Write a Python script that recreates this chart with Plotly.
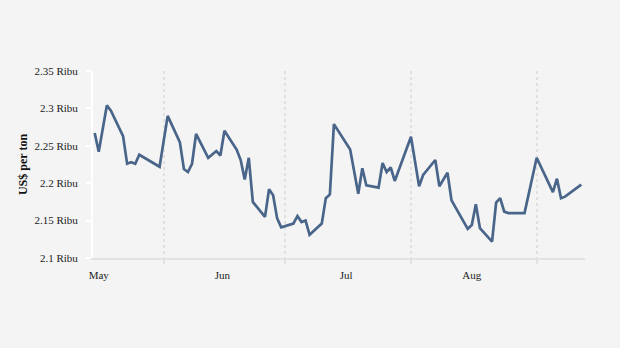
import plotly.graph_objects as go

# Daily price, US$ per ton (thousands)
dates = [
    "2023-05-15", "2023-05-16", "2023-05-18", "2023-05-19", "2023-05-22",
    "2023-05-23", "2023-05-24", "2023-05-25", "2023-05-26", "2023-05-31",
    "2023-06-02", "2023-06-05", "2023-06-06", "2023-06-07", "2023-06-08",
    "2023-06-09", "2023-06-12", "2023-06-14", "2023-06-15", "2023-06-16",
    "2023-06-19", "2023-06-20", "2023-06-21", "2023-06-22", "2023-06-23",
    "2023-06-26", "2023-06-27", "2023-06-28", "2023-06-29", "2023-06-30",
    "2023-07-03", "2023-07-04", "2023-07-05", "2023-07-06", "2023-07-07",
    "2023-07-10", "2023-07-11", "2023-07-12", "2023-07-13", "2023-07-17",
    "2023-07-19", "2023-07-20", "2023-07-21", "2023-07-24", "2023-07-25",
    "2023-07-26", "2023-07-27", "2023-07-28", "2023-08-01", "2023-08-03",
    "2023-08-04", "2023-08-07", "2023-08-08", "2023-08-09", "2023-08-10",
    "2023-08-11", "2023-08-14", "2023-08-15", "2023-08-16", "2023-08-17",
    "2023-08-18", "2023-08-21", "2023-08-22", "2023-08-23", "2023-08-24",
    "2023-08-25", "2023-08-29", "2023-08-30", "2023-09-01", "2023-09-05",
    "2023-09-06", "2023-09-07", "2023-09-08", "2023-09-12",
]
prices = [
    2.267, 2.242, 2.304, 2.297, 2.263,
    2.226, 2.228, 2.226, 2.238, 2.222,
    2.290, 2.255, 2.219, 2.215, 2.226,
    2.266, 2.234, 2.243, 2.237, 2.270,
    2.245, 2.231, 2.205, 2.234, 2.175,
    2.155, 2.192, 2.184, 2.153, 2.141,
    2.146, 2.156, 2.148, 2.150, 2.131,
    2.146, 2.180, 2.185, 2.279, 2.245,
    2.186, 2.220, 2.197, 2.194, 2.227,
    2.215, 2.221, 2.203, 2.262, 2.196,
    2.211, 2.231, 2.196, 2.205, 2.214,
    2.177, 2.147, 2.139, 2.144, 2.172,
    2.140, 2.122, 2.174, 2.180, 2.162,
    2.160, 2.160, 2.184, 2.234, 2.188,
    2.206, 2.180, 2.182, 2.198,
]

# Axis labels
month_label_dates = ["2023-05-16", "2023-06-15 12:00", "2023-07-16", "2023-08-16"]
month_labels = ["May", "Jun", "Jul", "Aug"]
y_tick_values = [2.1, 2.15, 2.2, 2.25, 2.3, 2.35]
y_tick_labels = ["2.1 Ribu", "2.15 Ribu", "2.2 Ribu", "2.25 Ribu", "2.3 Ribu", "2.35 Ribu"]

SERIF = "Liberation Serif, Times New Roman, serif"
BG = "#f4f4f4"

fig = go.Figure(
    go.Scatter(
        x=dates,
        y=prices,
        mode="lines",
        line=dict(color="#4a658a", width=2.7),
        hoverinfo="x+y",
    )
)

fig.update_layout(
    width=620,
    height=348,
    paper_bgcolor=BG,
    plot_bgcolor=BG,
    margin=dict(l=93, r=35, t=71, b=90),
    showlegend=False,
    font=dict(family=SERIF, size=11, color="#222"),
)

fig.update_xaxes(
    type="date",
    range=["2023-05-14 14:00", "2023-09-12 22:00"],
    tickmode="array",
    tickvals=month_label_dates,
    ticktext=month_labels,
    ticks="",
    showgrid=False,
    zeroline=False,
    showline=True,
    linecolor="#e2e2e2",
    linewidth=2,
    tickfont=dict(family=SERIF, size=11, color="#222"),
    ticklabelstandoff=6,
    minor=dict(
        tick0="2023-05-01",
        dtick="M1",
        ticks="outside",
        ticklen=4,
        tickcolor="#e2e2e2",
        tickwidth=2,
        showgrid=True,
        gridcolor="#e0e0e0",
        griddash="3px,3px",
        gridwidth=2,
    ),
)

fig.update_yaxes(
    range=[2.1, 2.35],
    tickmode="array",
    tickvals=y_tick_values,
    ticktext=y_tick_labels,
    ticks="outside",
    ticklen=5,
    tickwidth=2,
    tickcolor="#ffffff",
    showgrid=False,
    zeroline=False,
    showline=True,
    linecolor="#ffffff",
    linewidth=2,
    tickfont=dict(family=SERIF, size=11, color="#222"),
    ticklabelstandoff=6,
    title=dict(
        text="<b>US$ per ton</b>",
        font=dict(family=SERIF, size=12, color="#111"),
        standoff=4,
    ),
)

fig.write_html("out.html")
